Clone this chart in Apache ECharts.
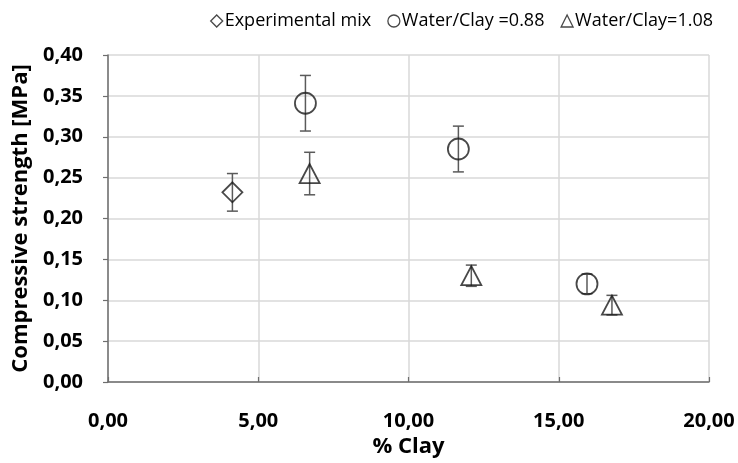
<!DOCTYPE html>
<html>
<head>
<meta charset="utf-8">
<script src="https://cdn.jsdelivr.net/npm/echarts@6/dist/echarts.min.js"></script>
<style>
html,body{margin:0;padding:0;background:#fff;}
#chart{width:738px;height:463px;}
</style>
</head>
<body>
<div id="chart"></div>
<script>
// ---- data ----
const seriesNames = ['Experimental mix', 'Water/Clay =0.88', 'Water/Clay=1.08'];
const mixX = [4.14];
const mixY = [0.232];
const mixErr = [0.023];
const w088X = [6.57, 11.66, 15.94];
const w088Y = [0.341, 0.285, 0.120];
const w088Err = [0.034, 0.028, 0.012];
const w108X = [6.71, 12.09, 16.77];
const w108Y = [0.255, 0.130, 0.094];
const w108Err = [0.026, 0.013, 0.012];
const xTicks = [0, 5, 10, 15, 20];
const yTicks = [0, 0.05, 0.10, 0.15, 0.20, 0.25, 0.30, 0.35, 0.40];

const FONT = 'Open Sans';
const fmt = v => v.toFixed(2).replace('.', ',');

function pts(xs, ys) { return xs.map((x, i) => [x, ys[i]]); }
function errs(xs, ys, es) { return xs.map((x, i) => [x, ys[i] - es[i], ys[i] + es[i]]); }

const allErr = [].concat(errs(mixX, mixY, mixErr), errs(w088X, w088Y, w088Err), errs(w108X, w108Y, w108Err));

function renderErr(params, api) {
  const x = api.value(0);
  const lo = api.coord([x, api.value(1)]);
  const hi = api.coord([x, api.value(2)]);
  const cap = 5.5;
  const style = { stroke: '#5a5a5a', lineWidth: 1.5 };
  return {
    type: 'group',
    children: [
      { type: 'line', shape: { x1: lo[0], y1: lo[1], x2: hi[0], y2: hi[1] }, style },
      { type: 'line', shape: { x1: lo[0] - cap, y1: lo[1], x2: lo[0] + cap, y2: lo[1] }, style },
      { type: 'line', shape: { x1: hi[0] - cap, y1: hi[1], x2: hi[0] + cap, y2: hi[1] }, style }
    ]
  };
}

const markerStyle = { color: 'rgba(0,0,0,0)', borderColor: '#1a1a1a', borderWidth: 1.8 };

const chart = echarts.init(document.getElementById('chart'), null, { renderer: 'canvas' });
chart.setOption({
  animation: false,
  backgroundColor: '#fff',
  textStyle: { fontFamily: FONT },
  legend: {
    top: 7,
    right: 20,
    itemWidth: 12,
    itemHeight: 12,
    itemGap: 16,
    textStyle: { fontFamily: FONT, fontSize: 18, color: '#000', padding: [0, 0, 0, -3] },
    data: [
      { name: seriesNames[0], icon: 'diamond', itemStyle: { borderWidth: 1.3 } },
      { name: seriesNames[1], icon: 'circle', itemStyle: { borderWidth: 1.3 } },
      { name: seriesNames[2], icon: 'triangle', itemStyle: { borderWidth: 1.3 } }
    ]
  },
  grid: { left: 108, right: 29, top: 55, bottom: 81 },
  xAxis: {
    type: 'value',
    min: 0, max: 20, interval: 5,
    name: '% Clay',
    nameLocation: 'middle',
    nameGap: 54,
    nameTextStyle: { fontFamily: FONT, fontSize: 22, fontWeight: 'bold', color: '#000' },
    axisLine: { show: true, onZero: false, lineStyle: { color: '#6e6e6e', width: 1.5 } },
    axisTick: { show: true, inside: true, length: 5, lineStyle: { color: '#6e6e6e', width: 1.2 } },
    axisLabel: { margin: 29, fontFamily: FONT, fontSize: 20, fontWeight: 'bold', color: '#000', formatter: fmt },
    splitLine: { show: true, lineStyle: { color: '#d9d9d9', width: 1.5 } }
  },
  yAxis: {
    type: 'value',
    min: 0, max: 0.4, interval: 0.05,
    name: 'Compressive strength [MPa]',
    nameLocation: 'middle',
    nameGap: 74,
    nameTextStyle: { fontFamily: FONT, fontSize: 22, fontWeight: 'bold', color: '#000' },
    axisLine: { show: true, lineStyle: { color: '#6e6e6e', width: 1.5 } },
    axisTick: { show: true, length: 5, lineStyle: { color: '#6e6e6e', width: 1.2 } },
    axisLabel: { margin: 25, fontFamily: FONT, fontSize: 20, fontWeight: 'bold', color: '#000', formatter: fmt },
    splitLine: { show: true, lineStyle: { color: '#d9d9d9', width: 1.5 } }
  },
  series: [
    {
      name: 'errors', type: 'custom', renderItem: renderErr, data: allErr, z: 3,
      encode: { x: 0, y: [1, 2] }, silent: true
    },
    {
      name: seriesNames[0], type: 'scatter', symbol: 'diamond', symbolSize: [20, 20],
      data: pts(mixX, mixY), itemStyle: markerStyle, z: 4
    },
    {
      name: seriesNames[1], type: 'scatter', symbol: 'circle', symbolSize: 21,
      data: pts(w088X, w088Y), itemStyle: markerStyle, z: 4
    },
    {
      name: seriesNames[2], type: 'scatter', symbol: 'triangle', symbolSize: [20, 19],
      data: pts(w108X, w108Y), itemStyle: markerStyle, z: 4
    }
  ]
});
</script>
</body>
</html>
